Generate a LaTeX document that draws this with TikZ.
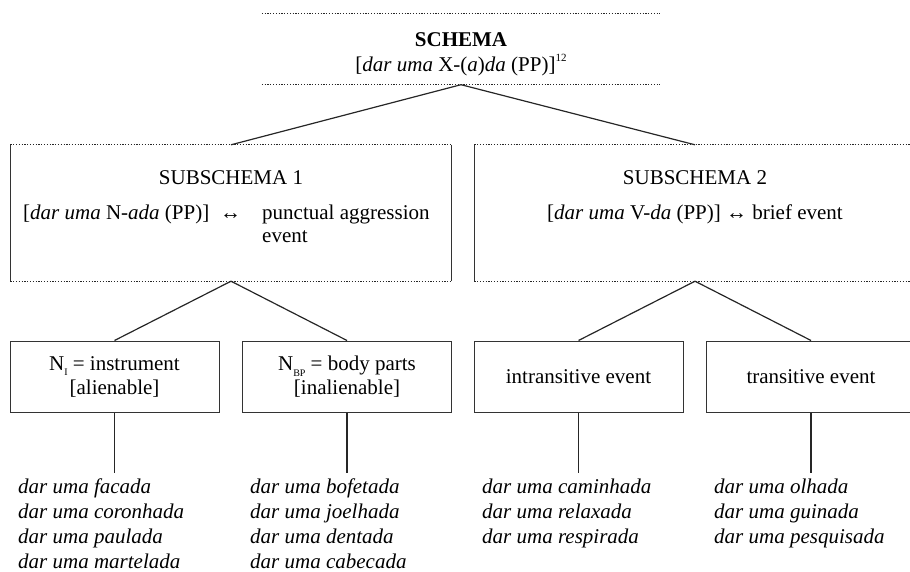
\documentclass[tikz,border=0pt]{standalone}
\usepackage{fontspec}
\setmainfont{Liberation Serif}
\usetikzlibrary{positioning}

\newcommand{\lowsub}[1]{\raisebox{-0.28em}{\fontsize{10}{10}\selectfont #1}}
\newcommand{\highsup}[1]{\raisebox{0.5em}{\fontsize{11}{11}\selectfont #1}}

\begin{document}
\begin{tikzpicture}[x=1pt, y=-1pt,
    every node/.style={font=\fontsize{21}{24}\selectfont, inner sep=0pt, text=black},
    topframe/.style={minimum width=398pt, minimum height=71pt},
    subframe/.style={minimum width=441pt, minimum height=136pt},
    catbox/.style={draw=black!80, line width=1pt, minimum width=209pt, minimum height=71pt, align=center},
    examples/.style={anchor=north west, align=left, font=\fontsize{21}{25}\selectfont\itshape},
    dotline/.style={line width=1.2pt, dash pattern=on 1.2pt off 1.6pt, black!85},
    sideline/.style={line width=1pt, black!80},
    branch/.style={line width=1.2pt, black!85}]
    \useasboundingbox (0,0) rectangle (910,572);
        % schema
        \node[topframe] (schema) at (461,49) {};
        \node[anchor=base] (schemaname) at (461,47) {\textbf{SCHEMA}};
        \node[anchor=base] (schemaform) at (461,72) {[\textit{dar uma} X-(\textit{a})\textit{da} (PP)]\highsup{12}};
        \draw[dotline] (schema.north west) -- (schema.north east);
        \draw[dotline] (schema.south west) -- (schema.south east);
        % subschemas
        \node[subframe] (sub1) at (231,213) {};
        \node[subframe] (sub2) at (695,213) {};
        \node[anchor=base] (sub1name) at (231,185) {SUBSCHEMA 1};
        \node[anchor=base west] (sub1form) at (23,219) {[\textit{dar uma} N-\textit{ada} (PP)]};
        \node[anchor=base west] (sub1arrow) at (220,219) {↔};
        \node[anchor=base west] (sub1mean) at (262,219) {punctual aggression};
        \node[anchor=base west] (sub1more) at (262,243) {event};
        \node[anchor=base] (sub2name) at (695,185) {SUBSCHEMA 2};
        \node[anchor=base] (sub2form) at (695,219) {[\textit{dar uma} V-\textit{da} (PP)] ↔ brief event};
        \draw[dotline] (sub1.north west) -- (sub1.north east);
        \draw[dotline] (sub1.south west) -- (sub1.south east);
        \draw[dotline] (sub2.north west) -- (sub2.north east);
        \draw[dotline] (sub2.south west) -- (sub2.south east);
        \draw[sideline] (sub1.north west) -- (sub1.south west);
        \draw[sideline] (sub1.north east) -- (sub1.south east);
        \draw[sideline] (sub2.north west) -- (sub2.south west);
        \draw[sideline] (sub2.north east) -- (sub2.south east);
        % categories
        \node[catbox] (instr) at (114.5,376.5) {N\lowsub{I} = instrument\\ {[}alienable{]}};
        \node[catbox] (body) at (347,376.5) {N\lowsub{BP} = body parts\\ {[}inalienable{]}};
        \node[catbox] (intrans) at (578.5,376.5) {intransitive event};
        \node[catbox] (trans) at (811,376.5) {transitive event};
        \draw[branch] (schema.south) -- (sub1.north);
        \draw[branch] (schema.south) -- (sub2.north);
        \draw[branch] (sub1.south) -- (instr.north);
        \draw[branch] (sub1.south) -- (body.north);
        \draw[branch] (sub2.south) -- (intrans.north);
        \draw[branch] (sub2.south) -- (trans.north);
        % examples
        \coordinate (instrend) at ([yshift=-60pt]instr.south);
        \coordinate (bodyend) at ([yshift=-60pt]body.south);
        \coordinate (intransend) at ([yshift=-60pt]intrans.south);
        \coordinate (transend) at ([yshift=-60pt]trans.south);
        \draw[branch] (instr.south) -- (instrend);
        \draw[branch] (body.south) -- (bodyend);
        \draw[branch] (intrans.south) -- (intransend);
        \draw[branch] (trans.south) -- (transend);
        \node[examples] (instrex) at (18,479) {dar uma facada\\ dar uma coronhada\\ dar uma paulada\\ dar uma martelada};
        \node[examples] (bodyex) at (250,479) {dar uma bofetada\\ dar uma joelhada\\ dar uma dentada\\ dar uma cabecada};
        \node[examples] (intransex) at (482,479) {dar uma caminhada\\ dar uma relaxada\\ dar uma respirada};
        \node[examples] (transex) at (714,479) {dar uma olhada\\ dar uma guinada\\ dar uma pesquisada};
    \end{tikzpicture}
\end{document}
